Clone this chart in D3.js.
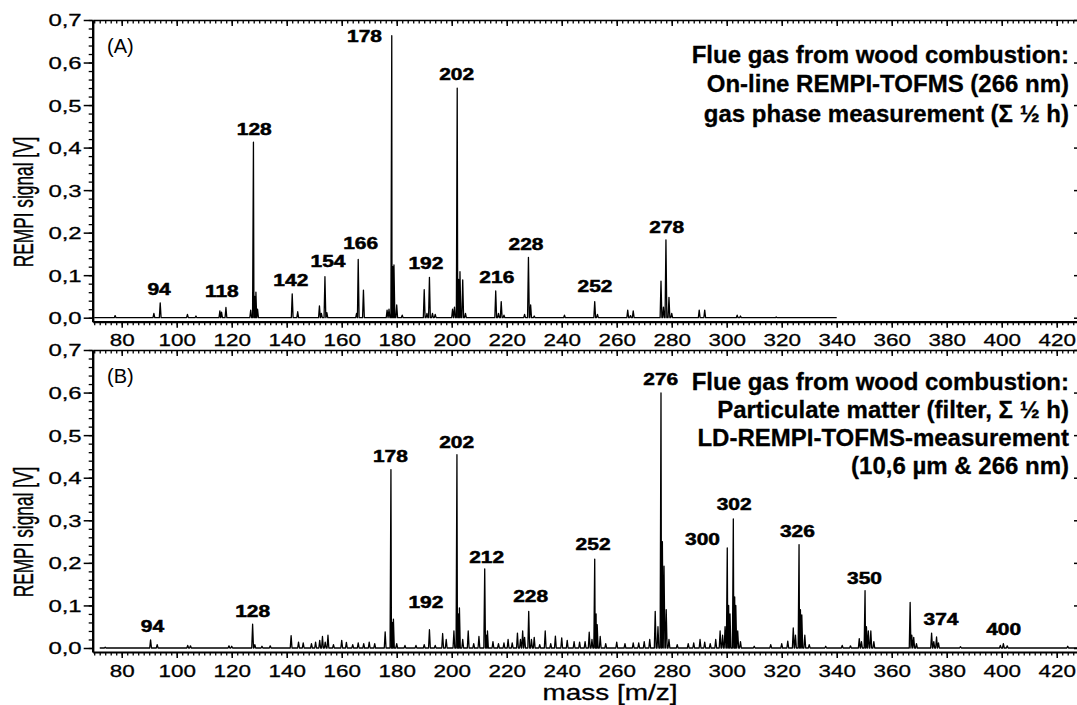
<!DOCTYPE html>
<html>
<head>
<meta charset="utf-8">
<title>REMPI-TOFMS spectra</title>
<script src="https://cdn.jsdelivr.net/npm/d3@7"></script>
<style>
body { margin: 0; padding: 0; background: #fff; }
svg { display: block; font-family: "Liberation Sans", Arial, Helvetica, sans-serif; }
.axis path, .axis line { stroke: #000; }
.axis text { fill: #000; }
</style>
</head>
<body>
<svg id="chart" width="1077" height="705"></svg>
<script>
// ---- data ----
// tick marks
var massTicks = d3.range(80, 421, 20);
var massMinorTicks = d3.range(70, 429, 2);
var signalTicks = [0, 0.1, 0.2, 0.3, 0.4, 0.5, 0.6, 0.7];
var signalTickLabels = ["0,0", "0,1", "0,2", "0,3", "0,4", "0,5", "0,6", "0,7"];
var signalMinorTicks = d3.range(0, 0.701, 0.02);

// (A) gas phase spectrum: [m/z, signal V]
var gasRange = [70, 340];
var gasPeaks = [
  [77.6,0.005],[91.7,0.01],[94,0.035],[103.9,0.008],[107,0.004],[115.7,0.016],[116.3,0.013],[117.9,0.024],
  [126.9,0.018],[127.9,0.4125],[128.4,0.05],[128.8,0.06],[129.4,0.02],
  [142,0.056],[144,0.014],[151.9,0.028],[152.6,0.01],[153.9,0.0965],[154.6,0.012],
  [165.4,0.01],[166,0.137],[167.9,0.065],[176.5,0.018],[177.2,0.02],[178.2,0.663],[178.6,0.12],[179,0.124],[180,0.03],[182,0.006],
  [190,0.066],[191,0.01],[191.9,0.095],[193,0.01],[194,0.008],[200.3,0.02],[201,0.025],[202,0.54],[202.5,0.09],[203,0.108],[204,0.089],[205,0.01],
  [216,0.063],[217,0.01],[218,0.038],[219,0.006],[226.5,0.008],[227.9,0.142],[228.7,0.03],[230,0.004],[241,0.006],
  [252,0.038],[253,0.008],[264,0.018],[265,0.005],[266,0.016],[276.1,0.086],[277,0.025],[277.9,0.183],[279,0.048],[280,0.01],
  [290,0.018],[292,0.018],[303.8,0.006],[305,0.004],[318,0.002]
];
var gasLabels = [
  ["94",93.6,0.053],["118",116.4,0.049],["128",128.2,0.43],["142",141.5,0.075],["154",155,0.119],
  ["166",166.9,0.162],["178",168.3,0.649],["192",190.6,0.115],["202",201.8,0.559],["216",216.4,0.082],
  ["228",227,0.159],["252",252.1,0.06],["278",278.2,0.199]
];
var gasTitle = ["Flue gas from wood combustion:", "On-line REMPI-TOFMS (266 nm)", "gas phase measurement (\u03A3 \u00BD h)"];

// (B) particulate matter spectrum
var filterRange = [72, 428];
var filterPeaks = [
  [74,0.002],[90.5,0.019],[92.9,0.008],[104,0.006],[105,0.005],[119,0.005],[120,0.004],[127.6,0.056],[128.4,0.008],[131,0.004],[134,0.005],
  [141.6,0.029],[144.3,0.014],[146,0.012],[149,0.01],[150.5,0.014],[152,0.018],[153,0.027],[154,0.014],[155,0.03],[157,0.008],[160,0.018],[161.7,0.013],[164,0.008],[166,0.012],[168,0.01],[170,0.014],[172,0.01],
  [175.8,0.038],[177.9,0.419],[178.4,0.06],[178.8,0.068],[180,0.01],[183,0.006],[187,0.006],[190,0.008],[191.9,0.043],[194,0.006],[196.7,0.034],[198,0.02],[200.8,0.04],[201.9,0.454],[202.4,0.08],[202.8,0.094],[204,0.02],
  [206,0.04],[208,0.01],[209.9,0.027],[212,0.186],[212.6,0.03],[213,0.04],[215,0.015],[217,0.01],[219,0.012],[220.5,0.02],[222,0.012],[223.9,0.035],[225,0.02],[225.8,0.04],[226.5,0.025],[228,0.086],[229,0.02],[230,0.025],[232,0.008],
  [234,0.04],[236,0.01],[237.7,0.028],[240,0.024],[242,0.018],[244.5,0.015],[246.5,0.014],[248.5,0.015],[250,0.037],[251,0.02],[252,0.209],[252.5,0.08],[252.9,0.055],[254,0.027],[256,0.01],[260,0.014],[263,0.01],[266,0.012],[268,0.012],[270,0.015],[272,0.02],
  [274,0.086],[275,0.05],[276.1,0.599],[276.6,0.25],[277.2,0.192],[278,0.09],[279,0.02],[282,0.008],[286,0.01],[288,0.012],[290.3,0.02],[292,0.014],[294,0.01],[296,0.02],
  [297.6,0.04],[298.5,0.03],[299.4,0.05],[300.2,0.235],[300.7,0.1],[301.2,0.08],[302.4,0.303],[302.9,0.12],[303.3,0.1],[304,0.04],[305,0.015],
  [310,0.004],[316,0.008],[320,0.01],[322.2,0.016],[324.2,0.047],[325,0.03],[326.3,0.243],[326.8,0.09],[327.3,0.078],[328.4,0.03],[330,0.008],
  [336,0.004],[342,0.006],[345,0.005],[348.2,0.022],[349,0.015],[350.3,0.135],[350.8,0.05],[351.5,0.04],[352.4,0.04],[353.5,0.015],
  [366.7,0.107],[367.3,0.03],[368,0.025],[369,0.01],[374.5,0.035],[375.3,0.015],[376.3,0.026],[377,0.012],[385,0.003],[399.5,0.006],[400.6,0.01],[402,0.005],[424,0.004]
];
var filterLabels = [
  ["94",91.2,0.038],["128",127.6,0.073],["178",177.7,0.437],["192",190.6,0.094],["202",201.8,0.47],
  ["212",212.7,0.2],["228",228.7,0.109],["252",251.4,0.23],["276",276,0.618],["300",291.2,0.242],
  ["302",302.7,0.324],["326",325.7,0.261],["350",350.1,0.15],["374",377.9,0.054],["400",400.7,0.031]
];
var filterTitle = ["Flue gas from wood combustion:", "Particulate matter (filter, \u03A3 \u00BD h)", "LD-REMPI-TOFMS-measurement", "(10,6 \u00B5m & 266 nm)"];

// ---- layout ----
var svg = d3.select("#chart");
var x = d3.scaleLinear().domain([69.45, 428.1]).range([92.7, 1079]);

var panels = [
  {tag: "(A)", peaks: gasPeaks, span: gasRange, labels: gasLabels, title: gasTitle, top: 20, bottom: 321.7, titleY: 62.5, lineH: 29.5},
  {tag: "(B)", peaks: filterPeaks, span: filterRange, labels: filterLabels, title: filterTitle, top: 350, bottom: 652, titleY: 389.5, lineH: 28}
];

var peakHalf = 0.32;
var tickScale = 1.36;

function spectrumPoints(peaks, span) {
  var pts = [[span[0], 0]];
  peaks.forEach(function(p) {
    pts.push([p[0] - peakHalf, 0], [p[0], p[1]], [p[0] + peakHalf, 0]);
  });
  pts.push([span[1], 0]);
  pts.sort(function(a, b) { return a[0] - b[0]; });
  return pts;
}

panels.forEach(function(p) {
  var y = d3.scaleLinear().domain([-0.0094, 0.7]).range([p.bottom, p.top]);
  var g = svg.append("g");

  // spectrum trace
  var line = d3.line().x(function(d) { return x(d[0]); }).y(function(d) { return y(d[1]); });
  g.append("path")
    .datum(spectrumPoints(p.peaks, p.span))
    .attr("d", line)
    .attr("fill", "none")
    .attr("stroke", "#000")
    .attr("stroke-width", 1.3)
    .attr("stroke-linejoin", "round");

  // bottom axis, minor then major
  g.append("g").attr("class", "axis")
    .attr("transform", "translate(0," + p.bottom + ")")
    .call(d3.axisBottom(x).tickValues(massMinorTicks).tickSize(3.5).tickSizeOuter(0).tickFormat(""))
    .call(function(s) { s.select(".domain").remove(); s.selectAll("line").attr("stroke-width", 1.3); });
  var bx = g.append("g").attr("class", "axis")
    .attr("transform", "translate(0," + p.bottom + ")")
    .call(d3.axisBottom(x).tickValues(massTicks).tickSize(6).tickSizeOuter(0).tickPadding(7));
  bx.select(".domain").attr("stroke-width", 2.2);
  bx.selectAll("line").attr("stroke-width", 1.5);
  bx.selectAll("text")
    .attr("font-size", 16.5)
    .attr("stroke", "#000").attr("stroke-width", 0.3)
    .attr("transform", "scale(" + tickScale + ",1)");

  // top frame with inward ticks
  g.append("g").attr("class", "axis")
    .attr("transform", "translate(0," + p.top + ")")
    .call(d3.axisBottom(x).tickValues(massMinorTicks).tickSize(3.5).tickSizeOuter(0).tickFormat(""))
    .call(function(s) { s.select(".domain").attr("stroke-width", 1.6); s.selectAll("line").attr("stroke-width", 1.3); });
  g.append("g").attr("class", "axis")
    .attr("transform", "translate(0," + p.top + ")")
    .call(d3.axisBottom(x).tickValues(massTicks).tickSize(6).tickSizeOuter(0).tickFormat(""))
    .call(function(s) { s.select(".domain").remove(); s.selectAll("line").attr("stroke-width", 1.5); });

  // left axis
  g.append("g").attr("class", "axis")
    .attr("transform", "translate(" + x.range()[0] + ",0)")
    .call(d3.axisLeft(y).tickValues(signalMinorTicks).tickSize(4).tickSizeOuter(0).tickFormat(""))
    .call(function(s) { s.select(".domain").remove(); s.selectAll("line").attr("stroke-width", 1.3); });
  var ly = g.append("g").attr("class", "axis")
    .attr("transform", "translate(" + x.range()[0] + ",0)")
    .call(d3.axisLeft(y).tickValues(signalTicks).tickSize(9).tickSizeOuter(0)
      .tickFormat(function(d, i) { return signalTickLabels[i]; }));
  ly.select(".domain").attr("stroke-width", 2.4);
  ly.selectAll("line").attr("stroke-width", 1.5);
  ly.selectAll("text")
    .attr("font-size", 16.5)
    .attr("stroke", "#000").attr("stroke-width", 0.3)
    .attr("x", -7.6)
    .attr("dy", "0.36em")
    .attr("transform", "scale(1.45,1)");

  // right axis, inward ticks
  g.append("g").attr("class", "axis")
    .attr("transform", "translate(" + x.range()[1] + ",0)")
    .call(d3.axisLeft(y).tickValues(signalTicks).tickSize(5).tickSizeOuter(0).tickFormat(""))
    .call(function(s) { s.select(".domain").attr("stroke-width", 2); s.selectAll("line").attr("stroke-width", 1.5); });

  // y axis title
  g.append("text")
    .attr("transform", "translate(33," + ((p.top + p.bottom) / 2 + 31) + ") rotate(-90) scale(0.64,1)")
    .attr("text-anchor", "middle")
    .attr("font-size", 27)
    .attr("stroke", "#000").attr("stroke-width", 0.4)
    .text("REMPI signal [V]");

  // panel tag
  g.append("text")
    .attr("x", 107).attr("y", p.top + 33)
    .attr("font-size", 20)
    .text(p.tag);

  // peak labels
  g.selectAll(".peak")
    .data(p.labels)
    .enter().append("text")
    .attr("class", "peak")
    .attr("transform", function(d) { return "translate(" + x(d[1]) + "," + y(d[2]) + ") scale(1.27,1)"; })
    .attr("text-anchor", "middle")
    .attr("font-size", 16.5)
    .attr("font-weight", "bold")
    .attr("stroke", "#000")
    .attr("stroke-width", 0.5)
    .text(function(d) { return d[0]; });

  // description block
  g.selectAll(".title")
    .data(p.title)
    .enter().append("text")
    .attr("class", "title")
    .attr("x", 1069)
    .attr("y", function(d, i) { return p.titleY + i * p.lineH; })
    .attr("text-anchor", "end")
    .attr("font-size", 24)
    .attr("font-weight", "bold")
    .attr("stroke", "#000")
    .attr("stroke-width", 0.3)
    .text(function(d) { return d; });
});

// x axis title
svg.append("text")
  .attr("transform", "translate(610,700) scale(1.3,1)")
  .attr("text-anchor", "middle")
  .attr("font-size", 21.5)
  .attr("stroke", "#000").attr("stroke-width", 0.3)
  .text("mass [m/z]");
</script>
</body>
</html>
